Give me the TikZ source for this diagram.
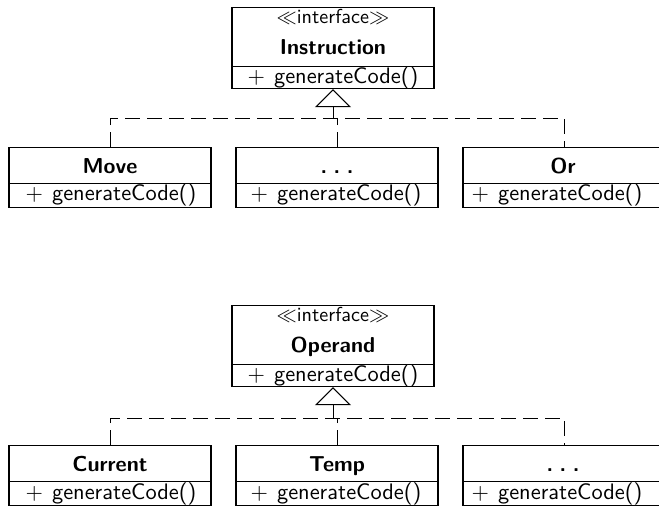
\documentclass[tikz,border=0pt]{standalone}
\usetikzlibrary{arrows.meta}
\newcommand\umlfont{\fontsize{10}{12}\selectfont\sffamily}
\newcommand\genop{$+$\hspace{0.4em}generateCode()}
\newcommand\umldots{.\hspace{0.3em}.\hspace{0.3em}.}
\begin{document}
\begin{tikzpicture}[x=1pt,y=-1pt,
  umlbox/.style={draw, line width=1.2pt, minimum width=202pt, inner sep=0pt, anchor=north},
  umlbase/.style={anchor=base, inner sep=0pt, font=\umlfont},
  umltext/.style={umlbase, scale=2.16},
  umlstereo/.style={umlbase, scale=2.02},
  umlop/.style={umlbase, scale=2.24},
  umlname/.style={umltext, font=\umlfont\bfseries},
  dep/.style={line width=1pt, dash pattern=on 15pt off 7pt},
  realizes/.style={dep, -{Triangle[open, length=18pt, width=36pt, line width=1pt]}}]
\useasboundingbox (0,0) rectangle (659,507);
\clip (0,0) rectangle (659,507);

% ---------- Instruction hierarchy ----------
\node[umlbox, minimum height=59pt] (instr) at (333,7) {};
\node[umlbox, minimum height=22pt] (instrops) at (333,66) {};
\node[umlstereo] (instrst) at (333,23) {$\ll$interface$\gg$};
\node[umlname] (instrname) at (333,54) {Instruction};
\node[umlop] (instrop) at (333,83) {\genop};

\node[umlbox, minimum height=36pt] (move) at (110,147) {};
\node[umlbox, minimum height=24pt] (moveops) at (110,183) {};
\node[umlname] (movename) at (110,173) {Move};
\node[umlop] (moveop) at (111,200) {\genop};

\node[umlbox, minimum height=36pt] (instrmid) at (337,147) {};
\node[umlbox, minimum height=24pt] (instrmidops) at (337,183) {};
\node[umlname] (instrmidname) at (337,173) {\umldots};
\node[umlop] (instrmidop) at (336,200) {\genop};

\node[umlbox, minimum height=36pt] (or) at (564,147) {};
\node[umlbox, minimum height=24pt] (orops) at (564,183) {};
\node[umlname] (orname) at (563,173) {Or};
\node[umlop] (orop) at (557,200) {\genop};

\coordinate (j1) at (333,118);
\draw[dep] (move.north) -- (move.north |- j1) -- (or.north |- j1) -- (or.north);
\draw[dep] (instrmid.north) -- (instrmid.north |- j1);
\draw[realizes] (j1) -- (instrops.south);

% ---------- Operand hierarchy ----------
\node[umlbox, minimum height=59pt] (opnd) at (333,305) {};
\node[umlbox, minimum height=22pt] (opndops) at (333,364) {};
\node[umlstereo] (opndst) at (333,321) {$\ll$interface$\gg$};
\node[umlname] (opndname) at (333,352) {Operand};
\node[umlop] (opndop) at (333,381) {\genop};

\node[umlbox, minimum height=36pt] (cur) at (110,445) {};
\node[umlbox, minimum height=24pt] (curops) at (110,481) {};
\node[umlname] (curname) at (110,471) {Current};
\node[umlop] (curop) at (111,499) {\genop};

\node[umlbox, minimum height=36pt] (temp) at (337,445) {};
\node[umlbox, minimum height=24pt] (tempops) at (337,481) {};
\node[umlname] (tempname) at (337,471) {Temp};
\node[umlop] (tempop) at (336,499) {\genop};

\node[umlbox, minimum height=36pt] (opndmore) at (564,445) {};
\node[umlbox, minimum height=24pt] (opndmoreops) at (564,481) {};
\node[umlname] (opndmorename) at (563,471) {\umldots};
\node[umlop] (opndmoreop) at (557,499) {\genop};

\coordinate (j2) at (333,418);
\draw[dep] (cur.north) -- (cur.north |- j2) -- (opndmore.north |- j2) -- (opndmore.north);
\draw[dep] (temp.north) -- (temp.north |- j2);
\draw[realizes] (j2) -- (opndops.south);
\end{tikzpicture}
\end{document}
